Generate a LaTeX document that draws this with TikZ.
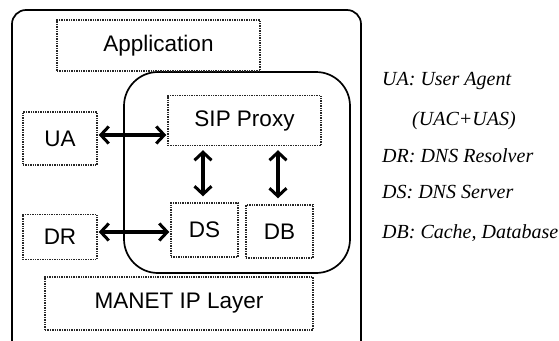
\documentclass[tikz,border=0pt]{standalone}
\usepackage{fontspec}
\setmainfont{Liberation Serif}
\setsansfont{Liberation Sans}
\usetikzlibrary{arrows.meta}
\begin{document}
\begin{tikzpicture}[x=1pt,y=-1pt,
  dbox/.style={draw=black!85, densely dotted, line width=1.4pt, inner sep=0pt, font=\sffamily\fontsize{22.5}{26}\selectfont},
  frame/.style={draw=black, line width=1.7pt},
  arr/.style={line width=3.6pt, {Straight Barb[length=8pt,width=17pt,line width=3pt]}-{Straight Barb[length=8pt,width=17pt,line width=3pt]}},
  legend/.style={anchor=base west, inner sep=0pt, font=\itshape\fontsize{20}{23}\selectfont}]
\useasboundingbox (0,0) rectangle (559,340);
\draw[frame, rounded corners=14pt] (12,350) -- (12,10) -- (361,10) -- (361,350);
\draw[frame, rounded corners=34pt] (124,72) rectangle (350,273);
\node[dbox, minimum width=203pt, minimum height=51pt] (app) at (158.5,45.5) {Application};
\node[dbox, minimum width=153pt, minimum height=50pt] (sip) at (244.5,120.5) {SIP Proxy};
\node[dbox, minimum width=74pt, minimum height=53pt] (ua) at (60,138.5) {UA};
\node[dbox, minimum width=74pt, minimum height=45pt] (dr) at (60,237) {DR};
\node[dbox, minimum width=67pt, minimum height=54pt] (ds) at (204.5,230) {DS};
\node[dbox, minimum width=67pt, minimum height=53pt] (db) at (279.5,231.5) {DB};
\node[dbox, minimum width=268pt, minimum height=53pt] (ip) at (179,303.5) {MANET IP Layer};
\coordinate (r1) at (0,135);
\coordinate (r2) at (0,232);
\coordinate (c1) at (203,0);
\coordinate (c2) at (278,0);
\draw[arr, shorten <=1pt, shorten >=1pt] (ua.east |- r1) -- (sip.west |- r1);
\draw[arr, shorten <=1pt, shorten >=1pt] (dr.east |- r2) -- (ds.west |- r2);
\draw[arr, shorten <=4pt, shorten >=6pt] (sip.south -| c1) -- (ds.north -| c1);
\draw[arr, shorten <=4pt, shorten >=6pt] (sip.south -| c2) -- (db.north -| c2);
\node[legend] (l1) at (382,85) {UA: User Agent};
\node[legend] (l2) at (412,125) {(UAC+UAS)};
\node[legend] (l3) at (382,162) {DR: DNS Resolver};
\node[legend] (l4) at (382,198) {DS: DNS Server};
\node[legend] (l5) at (382,238) {DB: Cache, Database};
\end{tikzpicture}
\end{document}
